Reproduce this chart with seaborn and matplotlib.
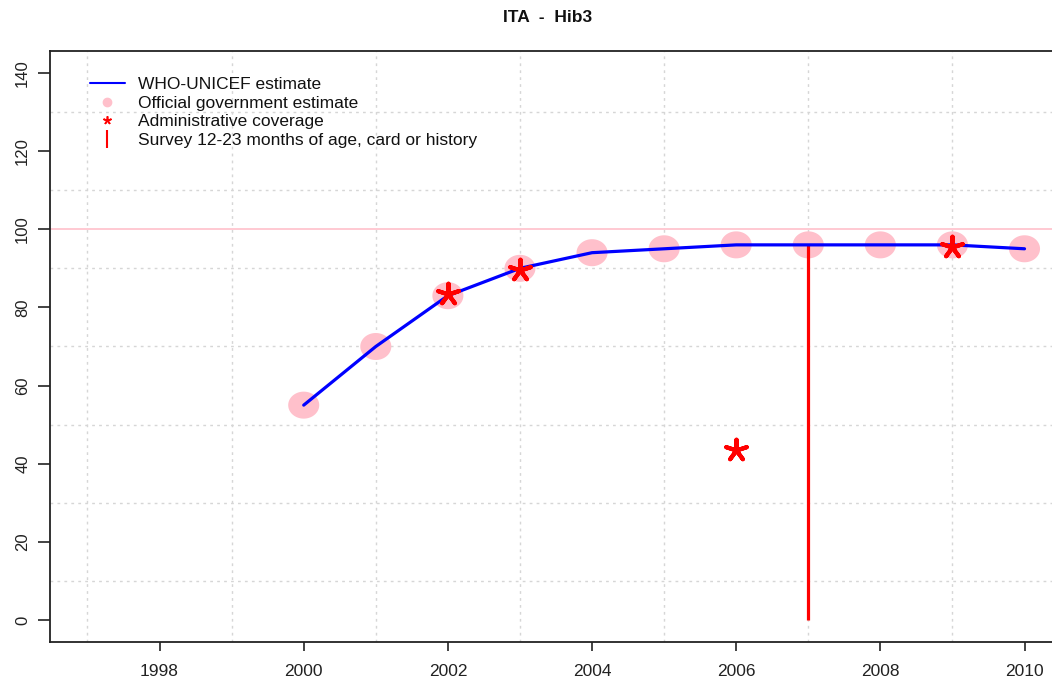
import numpy as np
import pandas as pd
import matplotlib
matplotlib.use("Agg")
import matplotlib.pyplot as plt
from matplotlib.path import Path
from matplotlib.lines import Line2D
import seaborn as sns

# ---- data ----
years = [2000, 2001, 2002, 2003, 2004, 2005, 2006, 2007, 2008, 2009, 2010]
wuenic = [55, 70, 83, 90, 94, 95, 96, 96, 96, 96, 95]
gov_years = [2000, 2001, 2002, 2003, 2004, 2005, 2006, 2007, 2008, 2009, 2010]
gov = [55, 70, 83, 90, 94, 95, 96, 96, 96, 96, 95]
admin_years = [2002, 2003, 2006, 2009]
admin = [83.5, 89.5, 43.5, 95.5]
survey_years = [2007]
survey = [96]
x_ticks = [1998, 2000, 2002, 2004, 2006, 2008, 2010]
y_ticks = [0, 20, 40, 60, 80, 100, 120, 140]
title = "ITA  -  Hib3"
legend_labels = ["WHO-UNICEF estimate", "Official government estimate",
                 "Administrative coverage", "Survey 12-23 months of age, card or history"]

sns.set_theme(style="white")
plt.rcParams['font.family'] = ['Liberation Sans', 'DejaVu Sans']

W, H = 1052, 680
fig = plt.figure(figsize=(W / 100, H / 100), dpi=100)
left_px, right_px, top_px, bottom_px = 50, 1062, 51, 642
ax_w, ax_h = right_px - left_px, bottom_px - top_px
ax = fig.add_axes([left_px / W, 1 - bottom_px / H, ax_w / W, ax_h / H])

ax.set_xlim(1996.48, 2010.52)
ax.set_ylim(-5.6, 145.6)

# grid
ax.set_xticks(np.arange(1997, 2011), minor=True)
ax.set_yticks(np.arange(0, 141, 10), minor=True)
ax.grid(which='minor', color='#d6d6d6', linestyle=(0, (2, 3)), linewidth=1.0)
ax.grid(which='major', visible=False)
ax.tick_params(which='minor', length=0)
ax.set_axisbelow(True)

# reference line at 100
ax.axhline(100, color='#ffc0cb', linewidth=1.2, zorder=1)

# ellipse marker for government estimates
t = np.linspace(0, 2 * np.pi, 60)
ell = Path(np.column_stack([np.cos(t), 0.87 * np.sin(t)]), closed=True)

df_gov = pd.DataFrame({"year": gov_years, "value": gov})
sns.scatterplot(data=df_gov, x="year", y="value", marker=ell, s=500, color='#ffc0cb',
                edgecolor='none', linewidth=0, ax=ax, zorder=2, legend=False)

# survey
ax.vlines(survey_years, 0, survey, color='red', linewidth=2.3, zorder=3)

df_w = pd.DataFrame({"year": years, "value": wuenic})
sns.lineplot(data=df_w, x="year", y="value", color='blue', linewidth=2.3, ax=ax,
             zorder=4, legend=False)

df_a = pd.DataFrame({"year": admin_years, "value": admin})
sns.scatterplot(data=df_a, x="year", y="value", marker=(5, 2, 0), s=240, color='red',
                edgecolor='red', linewidth=3, ax=ax, zorder=5, legend=False)

ax.set_xlabel("")
ax.set_ylabel("")
ax.set_xticks(x_ticks)
ax.set_xticklabels([str(v) for v in x_ticks])
ax.set_yticks(y_ticks)
ax.set_yticklabels([str(v) for v in y_ticks], rotation=90, va='center')
ax.tick_params(axis='both', which='major', direction='out', width=1.2,
               color='#222222', labelcolor='#222222', bottom=True, left=True)
ax.tick_params(axis='x', which='major', length=6.5, pad=9, labelsize=12.5)
ax.tick_params(axis='y', which='major', length=8.3, pad=6, labelsize=12)

for s in ['left', 'top', 'bottom', 'right']:
    ax.spines[s].set_color('#222222')
    ax.spines[s].set_linewidth(1.3)

handles = [
    Line2D([], [], color='blue', linewidth=1.5),
    Line2D([], [], color='#ffc0cb', marker='o', linestyle='none', markersize=6),
    Line2D([], [], color='red', marker=(5, 2, 0), linestyle='none', markersize=6, markeredgewidth=1.2),
    Line2D([], [], color='red', marker='|', linestyle='none', markersize=13, markeredgewidth=1.5),
]
leg = ax.legend(handles, legend_labels, loc='upper left', frameon=False,
                bbox_to_anchor=(40 / ax_w, 1 - 26 / ax_h),
                fontsize=12.5, handlelength=2.0, handletextpad=0.75, labelspacing=0.2,
                borderaxespad=0, borderpad=0)
for txt in leg.get_texts():
    txt.set_color('#111111')

fig.text(548 / W, 1 - 18 / H, title, ha='center', va='center', fontsize=12.5,
         fontweight='bold', color='#111111')

fig.savefig("out.png", dpi=100)
